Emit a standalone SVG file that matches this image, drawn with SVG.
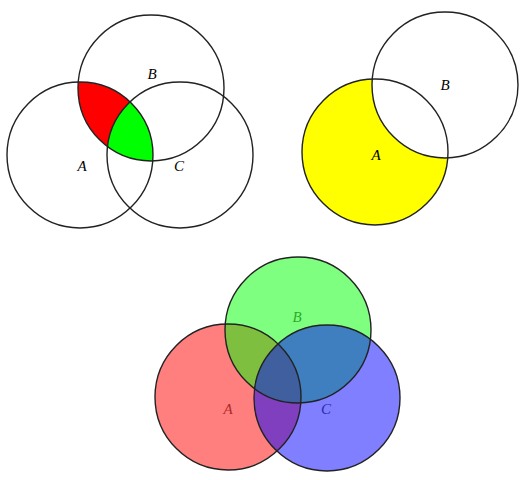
<svg xmlns="http://www.w3.org/2000/svg" width="530" height="480" viewBox="0 0 530 480">
<style>
.c{fill:none;stroke:#222;stroke-width:1.4}
text{font-family:"Liberation Serif",serif;font-style:italic;font-size:15px;text-anchor:middle}
</style>
<defs>
<clipPath id="cA1"><circle cx="80" cy="155" r="73"/></clipPath>
<clipPath id="cB1"><circle cx="151" cy="88" r="73"/></clipPath>
<clipPath id="cC1"><circle cx="180" cy="155" r="73"/></clipPath>
<mask id="mB2"><rect width="530" height="480" fill="#fff"/><circle cx="445" cy="85" r="73" fill="#000"/></mask>
</defs>
<g id="fills1">
<g clip-path="url(#cA1)"><circle cx="151" cy="88" r="73" fill="#f00"/></g>
<g clip-path="url(#cA1)"><g clip-path="url(#cB1)"><circle cx="180" cy="155" r="73" fill="#0f0"/></g></g>
</g>
<g id="venn1">
<circle class="c" cx="80" cy="155" r="73"/>
<circle class="c" cx="151" cy="88" r="73"/>
<circle class="c" cx="180" cy="155" r="73"/>
<text x="82" y="171">A</text><text x="152" y="79">B</text><text x="179" y="171">C</text>
</g>
<g id="venn2">
<circle cx="375" cy="152" r="73" fill="#ff0" mask="url(#mB2)"/>
<circle class="c" cx="375" cy="152" r="73"/>
<circle class="c" cx="445" cy="85" r="73"/>
<text x="376" y="160">A</text><text x="445" y="90">B</text>
</g>
<g id="venn3">
<text x="228" y="414" fill="#555">A</text><text x="297" y="322" fill="#555">B</text><text x="326" y="414" fill="#555">C</text>
<circle cx="228" cy="397" r="73" fill="#f00" fill-opacity="0.5"/>
<circle cx="298" cy="330" r="73" fill="#0f0" fill-opacity="0.5"/>
<circle cx="327" cy="398" r="73" fill="#00f" fill-opacity="0.5"/>
<circle class="c" cx="228" cy="397" r="73"/>
<circle class="c" cx="298" cy="330" r="73"/>
<circle class="c" cx="327" cy="398" r="73"/>
</g>
</svg>
